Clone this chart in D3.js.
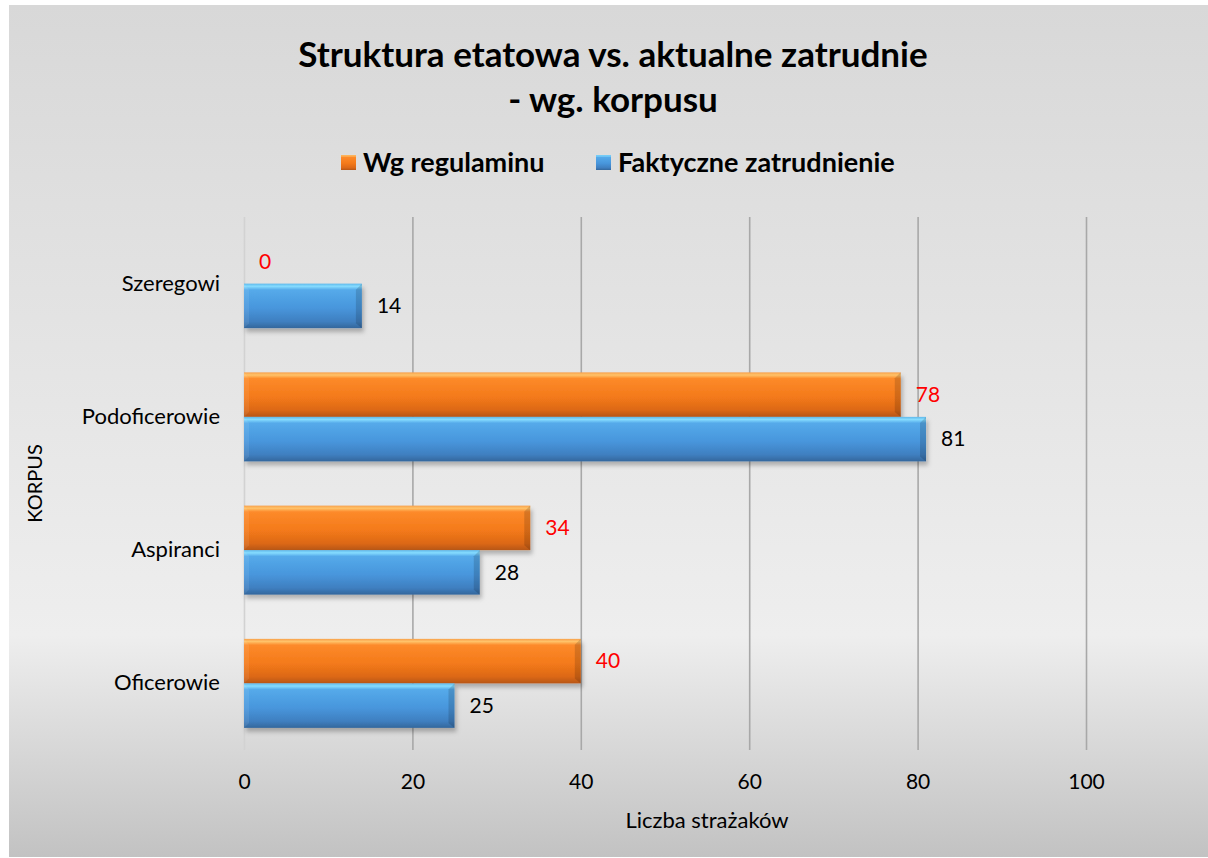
<!DOCTYPE html>
<html>
<head>
<meta charset="utf-8">
<script src="https://cdn.jsdelivr.net/npm/d3@7"></script>
<style>
  body { margin: 0; background: #fff; }
  text { font-family: Lato, "Open Sans", sans-serif; }
</style>
</head>
<body>
<svg id="chart"></svg>
<script>
const width = 1208;
const height = 858;

const categories = ["Szeregowi", "Podoficerowie", "Aspiranci", "Oficerowie"];
const seriesNames = ["Wg regulaminu", "Faktyczne zatrudnienie"];
const regulamin = [0, 78, 34, 40];
const faktyczne = [14, 81, 28, 25];
const xTicks = [0, 20, 40, 60, 80, 100];

const title1 = "Struktura etatowa vs. aktualne zatrudnie";
const title2 = "- wg. korpusu";
const xTitle = "Liczba strażaków";
const yTitle = "KORPUS";

const plot = { left: 244, right: 1086, top: 217, bottom: 750 };

const svg = d3.select('#chart').attr('width', width).attr('height', height);
const defs = svg.append('defs');

// background gradient
const bg = defs.append('linearGradient').attr('id', 'bg').attr('x1', 0).attr('y1', 0).attr('x2', 0).attr('y2', 1);
bg.append('stop').attr('offset', '0%').attr('stop-color', '#d8d8d8');
bg.append('stop').attr('offset', '40%').attr('stop-color', '#e4e4e4');
bg.append('stop').attr('offset', '74%').attr('stop-color', '#eeeeee');
bg.append('stop').attr('offset', '100%').attr('stop-color', '#c2c2c2');

// bar gradients (bevel look)
function barGradient(id, stops) {
    const g = defs.append('linearGradient').attr('id', id).attr('x1', 0).attr('y1', 0).attr('x2', 0).attr('y2', 1);
    stops.forEach((s) => {
        g.append('stop').attr('offset', s[0]).attr('stop-color', s[1]);
    });
}
barGradient('gOrange', [['0%', '#f8a04a'], ['6%', '#ffc36a'], ['14%', '#fd8a2a'], ['55%', '#f47a1a'], ['85%', '#dc6818'], ['100%', '#b75615']]);
barGradient('gBlue', [['0%', '#5fb8ea'], ['6%', '#86dcff'], ['14%', '#55aaea'], ['55%', '#4896dc'], ['85%', '#3f7fc0'], ['100%', '#34679c']]);

const shadow = defs.append('filter').attr('id', 'shadow').attr('x', '-5%').attr('y', '-20%').attr('width', '115%').attr('height', '160%');
shadow.append('feDropShadow').attr('dx', 2).attr('dy', 4).attr('stdDeviation', 2)
    .attr('flood-color', '#000').attr('flood-opacity', 0.25);

svg.append('rect').attr('x', 9).attr('y', 5).attr('width', width - 9).attr('height', height - 6).attr('fill', 'url(#bg)');

// scales
const x = d3.scaleLinear().domain([0, 100]).range([plot.left, plot.right]);
const y0 = d3.scaleBand().domain(categories).range([plot.top, plot.bottom]).paddingInner(0.332).paddingOuter(0.166);
const y1 = d3.scaleBand().domain(seriesNames).range([0, y0.bandwidth()]);

// gridlines + x axis
const xAxis = svg.append('g')
    .attr('transform', 'translate(0,' + plot.bottom + ')')
    .call(d3.axisBottom(x).tickValues(xTicks).tickSize(-(plot.bottom - plot.top)).tickPadding(24));
xAxis.select('.domain').remove();
xAxis.selectAll('.tick line').attr('stroke', '#a8a8a8').attr('stroke-width', 1.6);
xAxis.selectAll('.tick').filter((d) => d === 0).select('line').attr('stroke', '#d2d2d2');
xAxis.selectAll('.tick text').attr('font-size', 21).attr('fill', '#000');

// category axis
const yAxis = svg.append('g')
    .attr('transform', 'translate(' + plot.left + ',0)')
    .call(d3.axisLeft(y0).tickSize(0).tickPadding(24));
yAxis.select('.domain').remove();
yAxis.selectAll('.tick text').attr('font-size', 22).attr('fill', '#000');

// bars
const rows = categories.map((c, i) => ({ cat: c, values: [regulamin[i], faktyczne[i]] }));
const fills = ['url(#gOrange)', 'url(#gBlue)'];
const labelColors = ['#ff0000', '#000000'];

const groups = svg.selectAll('.grp')
    .data(rows)
    .enter().append('g')
    .attr('class', 'grp')
    .attr('transform', (d) => 'translate(0,' + y0(d.cat) + ')');

groups.each(function (d) {
    const g = d3.select(this);
    d.values.forEach((v, s) => {
        const yy = y1(seriesNames[s]);
        const h = y1.bandwidth();
        const w = x(v) - x(0);
        if (w > 0) {
            g.append('rect')
                .attr('x', x(0)).attr('y', yy)
                .attr('width', w).attr('height', h)
                .attr('fill', fills[s])
                .attr('filter', 'url(#shadow)');
            // right bevel
            g.append('path')
                .attr('d', 'M' + (x(v) - 6) + ',' + (yy + 6) + 'L' + x(v) + ',' + yy + 'L' + x(v) + ',' + (yy + h) + 'L' + (x(v) - 6) + ',' + (yy + h - 5) + 'Z')
                .attr('fill', '#000').attr('opacity', 0.14);
            // left bevel
            g.append('path')
                .attr('d', 'M' + x(0) + ',' + yy + 'L' + (x(0) + 5) + ',' + (yy + 6) + 'L' + (x(0) + 5) + ',' + (yy + h - 5) + 'L' + x(0) + ',' + (yy + h) + 'Z')
                .attr('fill', '#fff').attr('opacity', 0.08);
        }
        g.append('text')
            .attr('x', x(v) + 15)
            .attr('y', yy + h / 2)
            .attr('dy', '0.35em')
            .attr('font-size', 21)
            .attr('fill', labelColors[s])
            .text(v);
    });
});

// titles
svg.append('text').attr('x', 613).attr('y', 67).attr('text-anchor', 'middle')
    .attr('font-size', 35).attr('font-weight', 'bold').attr('fill', '#000').text(title1);
svg.append('text').attr('x', 613).attr('y', 112).attr('text-anchor', 'middle')
    .attr('font-size', 35).attr('font-weight', 'bold').attr('fill', '#000').text(title2);

// legend
const legendX = [341, 596];
seriesNames.forEach((name, s) => {
    svg.append('rect').attr('x', legendX[s]).attr('y', 155).attr('width', 15).attr('height', 15).attr('fill', fills[s]);
    svg.append('text').attr('x', legendX[s] + 22).attr('y', 172)
        .attr('font-size', 27).attr('font-weight', 'bold').attr('fill', '#000').text(name);
});

// axis titles
svg.append('text').attr('x', 707).attr('y', 828).attr('text-anchor', 'middle')
    .attr('font-size', 22).attr('fill', '#000').text(xTitle);
svg.append('text').attr('transform', 'translate(42,' + ((plot.top + plot.bottom) / 2) + ') rotate(-90)')
    .attr('text-anchor', 'middle').attr('font-size', 20).attr('fill', '#000').text(yTitle);
</script>
</body>
</html>
